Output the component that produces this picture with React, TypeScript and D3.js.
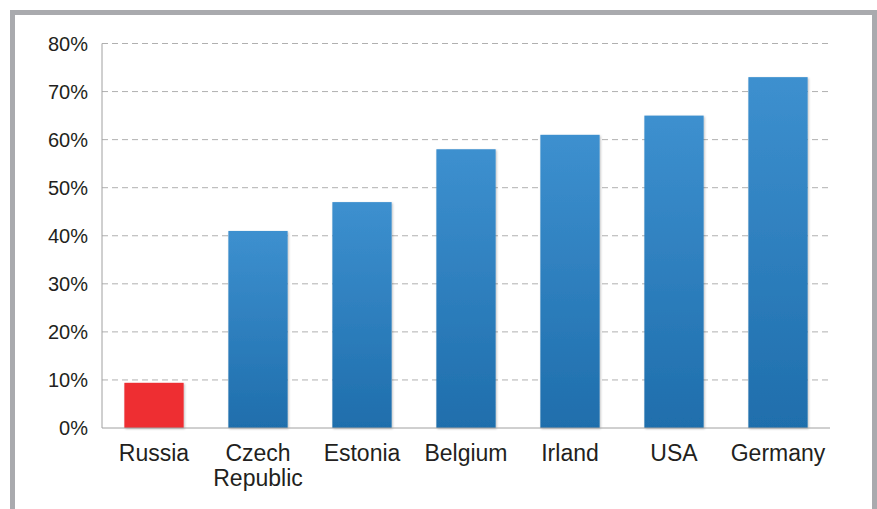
import React from "react";
import * as d3 from "d3";

const categories = ["Russia", "Czech\nRepublic", "Estonia", "Belgium", "Irland", "USA", "Germany"];
const values = [9.4, 41, 47, 58, 61, 65, 73];
const yTicks = [0, 10, 20, 30, 40, 50, 60, 70, 80];

const W = 877, H = 509;
const left = 102, right = 830, top = 43.5, bottom = 428;

export default function App() {
  const x = d3.scaleBand<string>().domain(categories).range([left, right]).paddingInner(0.43).paddingOuter(0.215);
  const y = d3.scaleLinear().domain([0, 80]).range([bottom, top]);
  return (
    <svg width={W} height={H} style={{ position: "absolute", left: 0, top: 0 }} fontFamily="Liberation Sans, Arial, sans-serif">
      <defs>
        <linearGradient id="blue" x1="0" y1="0" x2="0" y2="1">
          <stop offset="0" stopColor="#3d90cf" />
          <stop offset="1" stopColor="#1f6eac" />
        </linearGradient>
        <filter id="sh" x="-10%" y="-10%" width="130%" height="130%">
          <feDropShadow dx="1" dy="1" stdDeviation="1" floodColor="#000" floodOpacity="0.25" />
        </filter>
      </defs>
      <rect x={0} y={0} width={W} height={H} fill="#fff" />
      <rect x={12.5} y={12.5} width={862} height={500} fill="#fff" stroke="#a9aaae" strokeWidth={5} />
      {yTicks.map((t) => (
        <g key={t}>
          {t > 0 && (
            <line x1={left} x2={right} y1={y(t)} y2={y(t)} stroke="#b0b0b0" strokeWidth={1} strokeDasharray="6,4" />
          )}
          <text x={88} y={y(t)} dy="0.36em" textAnchor="end" fontSize={20} fill="#231f20">
            {t}%
          </text>
        </g>
      ))}
      <line x1={left} x2={left} y1={top} y2={bottom} stroke="#a0a0a0" />
      {categories.map((c, i) => (
        <rect
          key={c}
          x={x(c)!}
          y={y(values[i])}
          width={x.bandwidth()}
          height={bottom - y(values[i])}
          fill={i === 0 ? "#ee2d33" : "url(#blue)"}
          filter="url(#sh)"
        />
      ))}
      <line x1={left} x2={right} y1={bottom} y2={bottom} stroke="#a0a0a0" />
      {categories.map((c) => {
        const lines = c.split("\n");
        const cx = x(c)! + x.bandwidth() / 2;
        return (
          <text key={c} x={cx} y={461} textAnchor="middle" fontSize={23} fill="#231f20">
            {lines.map((l, j) => (
              <tspan key={j} x={cx} dy={j === 0 ? 0 : 25}>
                {l}
              </tspan>
            ))}
          </text>
        );
      })}
    </svg>
  );
}
